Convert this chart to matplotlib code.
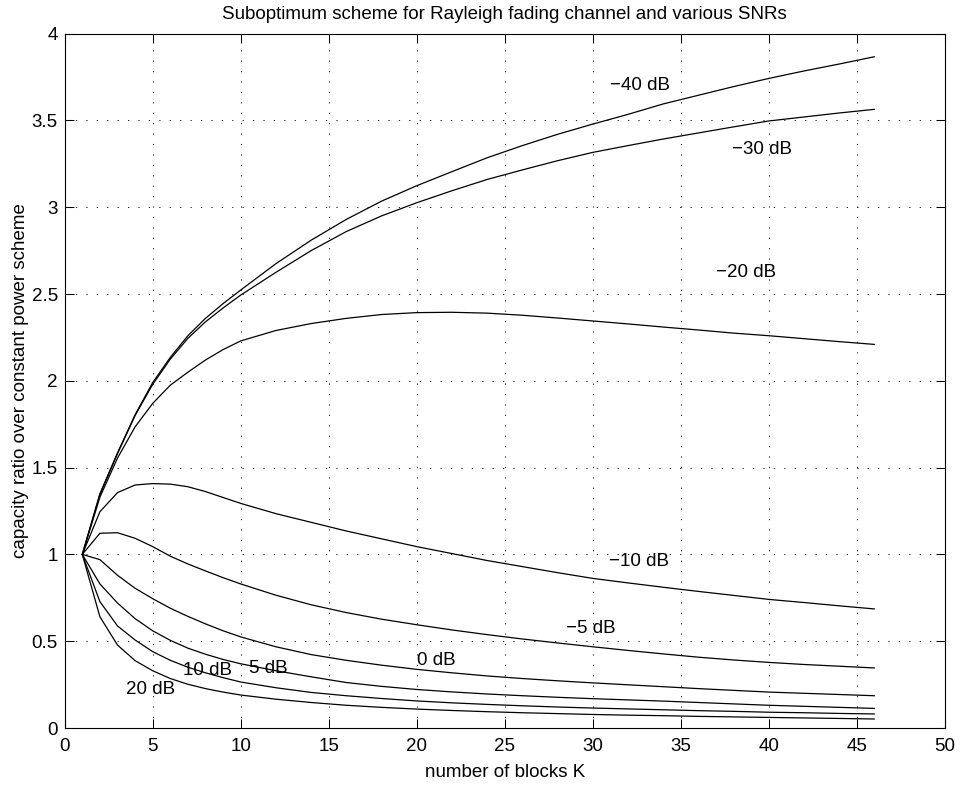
import matplotlib
matplotlib.use("Agg")
import matplotlib.pyplot as plt
import numpy as np

# number of blocks K (dense at small K, every second block after K=10)
K = [1, 2, 3, 4, 5, 6, 7, 8, 9, 10, 12, 14, 16, 18, 20, 22, 24, 26, 28, 30,
     32, 34, 36, 38, 40, 42, 44, 46]

# capacity ratio over the constant power scheme, one list per SNR
r_m40 = [1.0, 1.35, 1.585, 1.805, 1.99, 2.135, 2.26, 2.36, 2.445, 2.523,
         2.675, 2.81, 2.93, 3.035, 3.124, 3.205, 3.285, 3.355, 3.42, 3.479,
         3.535, 3.595, 3.645, 3.695, 3.742, 3.785, 3.825, 3.867]
r_m30 = [1.0, 1.345, 1.58, 1.80, 1.98, 2.125, 2.245, 2.34, 2.42, 2.494,
         2.625, 2.75, 2.86, 2.95, 3.026, 3.095, 3.16, 3.215, 3.268, 3.316,
         3.355, 3.393, 3.428, 3.463, 3.497, 3.52, 3.543, 3.564]
r_m20 = [1.0, 1.33, 1.555, 1.735, 1.87, 1.975, 2.05, 2.12, 2.18, 2.23,
         2.29, 2.33, 2.36, 2.382, 2.393, 2.395, 2.39, 2.378, 2.362, 2.345,
         2.328, 2.31, 2.293, 2.275, 2.26, 2.243, 2.226, 2.21]
r_m10 = [1.0, 1.246, 1.356, 1.40, 1.408, 1.405, 1.39, 1.362, 1.328, 1.294,
         1.235, 1.185, 1.135, 1.09, 1.045, 1.005, 0.965, 0.93, 0.895, 0.862,
         0.836, 0.811, 0.787, 0.764, 0.741, 0.723, 0.704, 0.686]
r_m5 = [1.0, 1.122, 1.125, 1.093, 1.045, 0.99, 0.945, 0.905, 0.866, 0.83,
        0.765, 0.71, 0.665, 0.627, 0.595, 0.565, 0.538, 0.513, 0.49, 0.468,
        0.447, 0.427, 0.408, 0.392, 0.378, 0.366, 0.356, 0.346]
r_0 = [1.0, 0.97, 0.88, 0.805, 0.745, 0.69, 0.643, 0.60, 0.56, 0.525,
       0.468, 0.423, 0.39, 0.362, 0.338, 0.318, 0.30, 0.285, 0.272, 0.26,
       0.249, 0.238, 0.227, 0.217, 0.207, 0.2, 0.193, 0.186]
r_5 = [1.0, 0.83, 0.72, 0.63, 0.56, 0.505, 0.46, 0.425, 0.395, 0.37,
       0.33, 0.295, 0.262, 0.24, 0.222, 0.208, 0.196, 0.186, 0.177, 0.169,
       0.162, 0.155, 0.147, 0.139, 0.131, 0.125, 0.119, 0.113]
r_10 = [1.0, 0.728, 0.588, 0.507, 0.44, 0.39, 0.35, 0.318, 0.29, 0.265,
        0.232, 0.205, 0.186, 0.17, 0.156, 0.145, 0.136, 0.128, 0.121, 0.115,
        0.11, 0.105, 0.1, 0.096, 0.091, 0.088, 0.084, 0.081]
r_20 = [1.0, 0.641, 0.478, 0.388, 0.33, 0.285, 0.252, 0.227, 0.207, 0.19,
        0.166, 0.147, 0.131, 0.119, 0.109, 0.101, 0.094, 0.088, 0.083, 0.078,
        0.074, 0.071, 0.067, 0.064, 0.061, 0.058, 0.055, 0.052]

curves = [r_m40, r_m30, r_m20, r_m10, r_m5, r_0, r_5, r_10, r_20]

# curve labels and where they sit (data coords, left aligned)
snr_labels = ["\u221240 dB", "\u221230 dB", "\u221220 dB", "\u221210 dB",
              "\u22125 dB", "0 dB", "5 dB", "10 dB", "20 dB"]
label_x = [31.0, 37.9, 37.0, 30.9, 28.5, 20.0, 10.5, 6.7, 3.5]
label_y = [3.70, 3.335, 2.627, 0.958, 0.576, 0.39, 0.344, 0.334, 0.219]

plt.rcParams["font.family"] = ["Liberation Sans", "DejaVu Sans"]
plt.rcParams["font.size"] = 13.5

fig = plt.figure(figsize=(9.6, 7.85), dpi=100)
ax = fig.add_axes([0.0674, 0.0726, 0.9166, 0.8845])

for r in curves:
    ax.plot(K, r, color="k", lw=0.9)

for t, x, y in zip(snr_labels, label_x, label_y):
    ax.text(x, y, t, ha="left", va="center", fontsize=13.5)

ax.set_xlim(0, 50)
ax.set_ylim(0, 4)
ax.set_xticks(np.arange(0, 51, 5))
ax.set_yticks(np.arange(0, 4.01, 0.5))
ax.set_yticklabels(["0", "0.5", "1", "1.5", "2", "2.5", "3", "3.5", "4"])
ax.tick_params(direction="in", top=True, right=True, length=6.5, width=0.75)
ax.tick_params(axis="x", pad=7)
ax.tick_params(axis="y", pad=5)
ax.grid(True, color="k", lw=0.6, linestyle=(0, (1.5, 11)))
for s in ax.spines.values():
    s.set_linewidth(0.8)

ax.set_xlabel("number of blocks K", labelpad=7)
ax.set_ylabel("capacity ratio over constant power scheme", labelpad=2)
ax.set_title("Suboptimum scheme for Rayleigh fading channel and various SNRs",
             fontsize=13.5, pad=10.5)

fig.savefig("out.png", dpi=100)
